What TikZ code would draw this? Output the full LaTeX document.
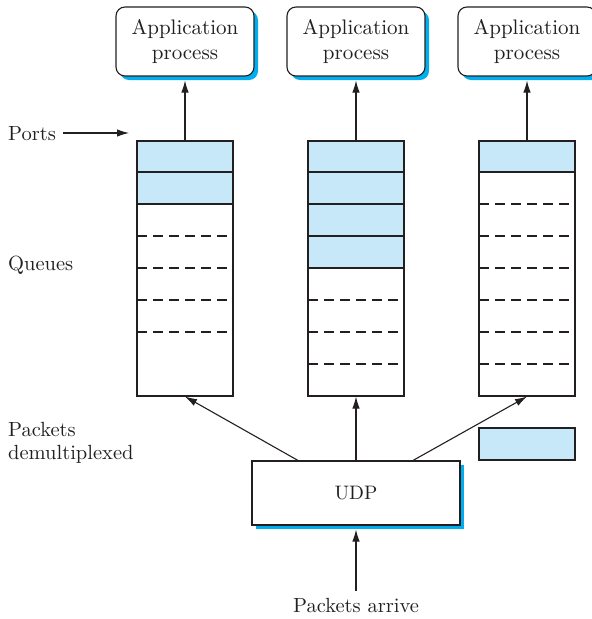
\documentclass[tikz,border=0pt]{standalone}
\usepackage{fontspec}
\setmainfont{lmroman10-regular.otf}
\usetikzlibrary{arrows.meta,shadows}
\definecolor{cellblue}{RGB}{198,232,248}
\definecolor{shadowblue}{RGB}{0,174,239}
\definecolor{ink}{RGB}{35,31,32}
\begin{document}
\begin{tikzpicture}[x=1pt,y=-1pt,
  line/.style={draw=ink, line width=1.1pt},
  arr/.style={line, -{Latex[length=12pt,width=7.5pt]}},
  lbl/.style={font=\fontsize{20.5}{23}\selectfont, text=ink, inner sep=0pt},
  bshadow/.style={general shadow={fill=shadowblue, shadow xshift=4pt, shadow yshift=-4pt}},
  appbox/.style={line, fill=white, rounded corners=9pt, minimum width=138pt, minimum height=69pt,
    align=center, font=\fontsize{21}{25}\selectfont, text=ink, inner sep=0pt, bshadow},
  queue/.style={line, minimum width=96pt, minimum height=255pt, inner sep=0pt},
  cellsep/.style={draw=ink, line width=1.1pt},
  dashsep/.style={draw=ink, line width=1.1pt, dash pattern=on 9.5pt off 6.5pt},
]
\useasboundingbox (0,0) rectangle (592,619);

% application processes
\node[appbox] (app1) at (185,41.5) {Application\\process};
\node[appbox] (app2) at (356,41.5) {Application\\process};
\node[appbox] (app3) at (527,41.5) {Application\\process};

% queue contents
\fill[cellblue] (137,141) rectangle (233,204);
\draw[cellsep] (137,172) -- (233,172) (137,204) -- (233,204);
\foreach \y in {236,268,300,332} \draw[dashsep] (137,\y) -- (230,\y);

\fill[cellblue] (308,141) rectangle (404,268);
\draw[cellsep] (308,172) -- (404,172) (308,204) -- (404,204) (308,236) -- (404,236) (308,268) -- (404,268);
\foreach \y in {300,332,364} \draw[dashsep] (308,\y) -- (401,\y);

\fill[cellblue] (479,141) rectangle (575,172);
\draw[cellsep] (479,172) -- (575,172);
\foreach \y in {204,236,268,300,332,364} \draw[dashsep] (479,\y) -- (572,\y);

% queue outlines
\node[queue] (q1) at (185,268.5) {};
\node[queue] (q2) at (356,268.5) {};
\node[queue] (q3) at (527,268.5) {};

% UDP and packet
\node[line, fill=white, minimum width=208pt, minimum height=64pt, inner sep=0pt, bshadow,
  font=\fontsize{19.5}{24}\selectfont, text=ink] (udp) at (356,493) {UDP};
\node[line, fill=cellblue, minimum width=96pt, minimum height=32pt, inner sep=0pt] (pkt) at (527,444) {};

% labels
\node[lbl, anchor=base west] (ports) at (8,140) {Ports};
\node[lbl, anchor=base west] (queues) at (8,270) {Queues};
\node[lbl, anchor=north west, align=left] (demux) at (8,422.5) {Packets\\demultiplexed};
\node[lbl, anchor=base] (arrive) at (356,612) {Packets arrive};
\coordinate (portsend) at (129,133);

% connectors
\draw[arr] (q1.north) -- ([yshift=-4pt]app1.south);
\draw[arr] (q2.north) -- ([yshift=-4pt]app2.south);
\draw[arr] (q3.north) -- ([yshift=-4pt]app3.south);
\draw[arr] ([xshift=7pt,yshift=7pt]ports.base east) -- (portsend);
\draw[arr] ([xshift=-58pt]udp.north) -- (q1.south);
\draw[arr] (udp.north) -- (q2.south);
\draw[arr] ([xshift=57pt]udp.north) -- (q3.south);
\draw[arr] ([yshift=7pt]arrive.north) -- ([yshift=-4pt]udp.south);
\end{tikzpicture}
\end{document}
